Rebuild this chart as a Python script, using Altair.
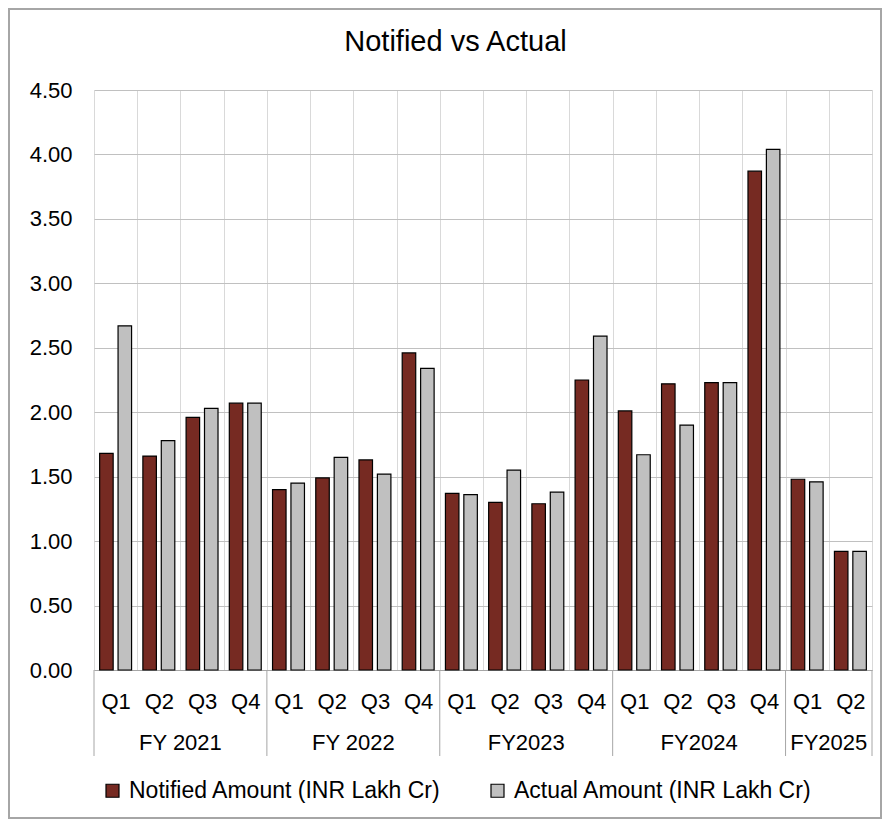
import altair as alt
import pandas as pd

# ---- data ----
fiscal_years = ["FY 2021"] * 4 + ["FY 2022"] * 4 + ["FY2023"] * 4 + ["FY2024"] * 4 + ["FY2025"] * 2
quarters = ["Q1", "Q2", "Q3", "Q4"] * 4 + ["Q1", "Q2"]
notified = [1.68, 1.66, 1.96, 2.07, 1.40, 1.49, 1.63, 2.46, 1.37, 1.30, 1.29, 2.25,
            2.01, 2.22, 2.23, 3.87, 1.48, 0.92]
actual = [2.67, 1.78, 2.03, 2.07, 1.45, 1.65, 1.52, 2.34, 1.36, 1.55, 1.38, 2.59,
          1.67, 1.90, 2.23, 4.04, 1.46, 0.92]
series_names = ["Notified Amount (INR Lakh Cr)", "Actual Amount (INR Lakh Cr)"]
series_colors = ["#762A22", "#C0C0C0"]
y_ticks = [0, 0.5, 1.0, 1.5, 2.0, 2.5, 3.0, 3.5, 4.0, 4.5]
title_text = "Notified vs Actual"

FONT = "Liberation Sans"
W, H = 778, 580

keys = [f"{fy}|{q}" for fy, q in zip(fiscal_years, quarters)]
rows = []
for k, fy, q, n, a in zip(keys, fiscal_years, quarters, notified, actual):
    rows.append({"key": k, "fy": fy, "q": q, "series": series_names[0], "value": n})
    rows.append({"key": k, "fy": fy, "q": q, "series": series_names[1], "value": a})
df = pd.DataFrame(rows)

# group boundaries / centers derived from the fiscal-year list
fy_order = list(dict.fromkeys(fiscal_years))
sep_rows, center_rows = [], []
for fy in fy_order:
    ks = [k for k, f in zip(keys, fiscal_years) if f == fy]
    sep_rows.append({"key": ks[0]})
    center_rows.append({"key": ks[len(ks) // 2], "fy": fy})
sep_df = pd.DataFrame(sep_rows)
end_df = pd.DataFrame([{"key": keys[-1]}])
center_df = pd.DataFrame(center_rows)

xscale = alt.Scale(domain=keys, paddingInner=0, paddingOuter=0)

bars = alt.Chart(df).mark_bar(stroke="black", strokeWidth=1.2).encode(
    x=alt.X("key:N", scale=xscale, sort=keys, title=None,
            axis=alt.Axis(labelExpr="split(datum.value, '|')[1]", labelAngle=0,
                          labelFontSize=22, labelPadding=21, labelColor="black",
                          labelFont=FONT, ticks=False, domainColor="#a6a6a6",
                          grid=True, gridColor="#d9d9d9", tickBand="extent")),
    xOffset=alt.XOffset("series:N", sort=series_names,
                        scale=alt.Scale(domain=series_names, paddingInner=0.266, paddingOuter=0.307)),
    y=alt.Y("value:Q", title=None, scale=alt.Scale(domain=[0, 4.5], nice=False),
            axis=alt.Axis(values=y_ticks, format=".2f", labelFontSize=22, labelColor="black",
                          labelFont=FONT, labelPadding=22, ticks=False, domain=False,
                          gridColor="#c0c0c0")),
    color=alt.Color("series:N", sort=series_names,
                    scale=alt.Scale(domain=series_names, range=series_colors),
                    legend=alt.Legend(title=None, orient="none", legendX=7, legendY=689,
                                      direction="horizontal", symbolType="square",
                                      symbolSize=169, symbolStrokeColor="black",
                                      symbolStrokeWidth=1.2, symbolOpacity=1,
                                      labelFontSize=23, labelFont=FONT, labelColor="black",
                                      labelOffset=5, columnPadding=45, labelLimit=500)),
)

seps = alt.Chart(sep_df).mark_rule(color="#a6a6a6", strokeWidth=1).encode(
    x=alt.X("key:N", scale=xscale, title=None, bandPosition=0),
    y=alt.value(H), y2=alt.value(H + 86),
)
end_sep = alt.Chart(end_df).mark_rule(color="#a6a6a6", strokeWidth=1).encode(
    x=alt.X("key:N", scale=xscale, title=None, bandPosition=1),
    y=alt.value(H), y2=alt.value(H + 86),
)
fy_labels = alt.Chart(center_df).mark_text(fontSize=22, font=FONT, color="black",
                                           baseline="middle", align="center").encode(
    x=alt.X("key:N", scale=xscale, title=None, bandPosition=0),
    y=alt.value(H + 73),
    text="fy:N",
)
frame = alt.Chart(alt.Data(values=[{"f": 1}])).mark_rect(
    fillOpacity=0, stroke="#a6a6a6", strokeWidth=2
).encode(x=alt.value(-85), x2=alt.value(787), y=alt.value(-81), y2=alt.value(728))

title = alt.Chart(alt.Data(values=[{"t": title_text}])).mark_text(
    fontSize=29, font=FONT, color="black", align="center", baseline="alphabetic"
).encode(x=alt.value(361.5), y=alt.value(-39), text="t:N")

chart = alt.layer(frame, bars, seps, end_sep, fy_labels, title).properties(
    width=W, height=H,
    autosize=alt.AutoSizeParams(type="none"),
    padding={"left": 86, "top": 82, "right": 10, "bottom": 149},
).configure(font=FONT).configure_view(strokeWidth=0)

chart.save("out.html", embed_options={"renderer": "svg", "actions": False})
